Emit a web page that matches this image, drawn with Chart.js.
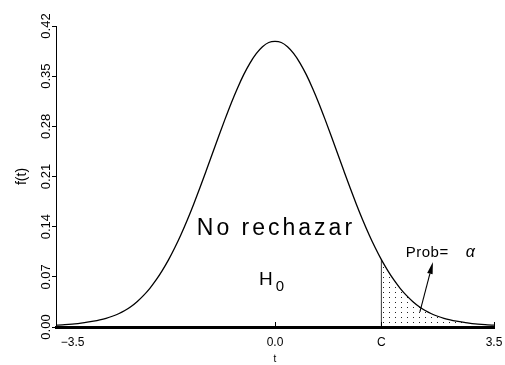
<!DOCTYPE html>
<html>
<head>
<meta charset="utf-8">
<script src="https://cdn.jsdelivr.net/npm/chart.js@4/dist/chart.umd.min.js"></script>
<style>
  html, body { margin: 0; padding: 0; background: #fff; }
  #wrap { width: 505px; height: 365px; }
</style>
</head>
<body>
<div id="wrap"><canvas id="c"></canvas></div>
<script>
// Density curve f(t), sampled every 0.1 from -3.5 to 3.5
const tValues = [
  -3.5, -3.4, -3.3, -3.2, -3.1, -3.0, -2.9, -2.8, -2.7, -2.6,
  -2.5, -2.4, -2.3, -2.2, -2.1, -2.0, -1.9, -1.8, -1.7, -1.6,
  -1.5, -1.4, -1.3, -1.2, -1.1, -1.0, -0.9, -0.8, -0.7, -0.6,
  -0.5, -0.4, -0.3, -0.2, -0.1, 0.0, 0.1, 0.2, 0.3, 0.4,
  0.5, 0.6, 0.7, 0.8, 0.9, 1.0, 1.1, 1.2, 1.3, 1.4,
  1.5, 1.6, 1.7, 1.8, 1.9, 2.0, 2.1, 2.2, 2.3, 2.4,
  2.5, 2.6, 2.7, 2.8, 2.9, 3.0, 3.1, 3.2, 3.3, 3.4, 3.5
];
const density = [
  0.0025, 0.0030, 0.0037, 0.0045, 0.0055, 0.0067, 0.0082, 0.0100, 0.0122, 0.0150,
  0.0185, 0.0230, 0.0287, 0.0357, 0.0441, 0.0540, 0.0656, 0.0790, 0.0940, 0.1109,
  0.1295, 0.1497, 0.1714, 0.1942, 0.2179, 0.2420, 0.2661, 0.2897, 0.3123, 0.3332,
  0.3521, 0.3683, 0.3814, 0.3910, 0.3970, 0.3985, 0.3970, 0.3910, 0.3814, 0.3683,
  0.3521, 0.3332, 0.3123, 0.2897, 0.2661, 0.2420, 0.2179, 0.1942, 0.1714, 0.1497,
  0.1295, 0.1109, 0.0940, 0.0790, 0.0656, 0.0540, 0.0441, 0.0357, 0.0287, 0.0230,
  0.0185, 0.0150, 0.0122, 0.0100, 0.0082, 0.0067, 0.0055, 0.0045, 0.0037, 0.0030, 0.0025
];

// Critical value C (start of the rejection region)
const critical = 1.7;

// Axis ticks
const xTicks = [-3.5, 0.0, 1.7, 3.5];
const xTickLabels = ['\u2007\u2007\u2007\u2007\u2007\u22123.5', '0.0', 'C', '3.5'];
const yTicks = [0.00, 0.07, 0.14, 0.21, 0.28, 0.35, 0.42];

// Text placed on the plot (data coordinates)
const regionLabel = { text: 'No rechazar', x: -1.25, y: 0.128 };
const hypothesisLabel = { text: 'H', sub: '0', x: -0.255, y: 0.0586 };
const probLabel = { text: 'Prob=', greek: '\u03b1', x: 2.09, xGreek: 3.05, y: 0.0977 };
const arrowFrom = { x: 2.316, y: 0.021 };
const arrowTo = { x: 2.524, y: 0.0907 };

const curvePoints = tValues.map((t, i) => ({ x: t, y: density[i] }));
const tailPoints = curvePoints.filter(p => p.x >= critical);
const criticalHeight = density[tValues.indexOf(critical)];

// Dotted pattern for the tail area
const tile = document.createElement('canvas');
tile.width = 6; tile.height = 5;
const tctx = tile.getContext('2d');
tctx.fillStyle = '#222';
tctx.fillRect(5, 2, 1, 1);
const dots = tctx.createPattern(tile, 'repeat');

const FONT = "'Liberation Sans', 'DejaVu Sans', sans-serif";

const annotations = {
  id: 'annotations',
  afterDraw(chart) {
    const { ctx, scales: { x, y } } = chart;
    ctx.save();

    // x tick marks pointing into the plot
    ctx.strokeStyle = '#000';
    ctx.lineWidth = 1;
    const base = y.getPixelForValue(0);
    xTicks.forEach(v => {
      const px = Math.round(x.getPixelForValue(v)) + 0.5;
      ctx.beginPath();
      ctx.moveTo(px, base);
      ctx.lineTo(px, base - 5);
      ctx.stroke();
    });

    ctx.fillStyle = '#000';
    ctx.textAlign = 'left';
    ctx.textBaseline = 'alphabetic';

    ctx.font = '23px ' + FONT;
    ctx.letterSpacing = '3px';
    ctx.fillText(regionLabel.text, x.getPixelForValue(regionLabel.x), y.getPixelForValue(regionLabel.y));
    ctx.letterSpacing = '0px';

    const hx = x.getPixelForValue(hypothesisLabel.x);
    const hy = y.getPixelForValue(hypothesisLabel.y);
    ctx.font = '19px ' + FONT;
    ctx.fillText(hypothesisLabel.text, hx, hy);
    const hw = ctx.measureText(hypothesisLabel.text).width;
    ctx.font = '15px ' + FONT;
    ctx.fillText(hypothesisLabel.sub, hx + hw + 3, hy + 6);

    ctx.font = '15px ' + FONT;
    ctx.letterSpacing = '0.5px';
    ctx.fillText(probLabel.text, x.getPixelForValue(probLabel.x), y.getPixelForValue(probLabel.y));
    ctx.letterSpacing = '0px';
    ctx.font = 'italic 16px ' + FONT;
    ctx.fillText(probLabel.greek, x.getPixelForValue(probLabel.xGreek), y.getPixelForValue(probLabel.y));

    // Arrow pointing at the tail area label
    const x0 = x.getPixelForValue(arrowFrom.x), y0 = y.getPixelForValue(arrowFrom.y);
    const x1 = x.getPixelForValue(arrowTo.x), y1 = y.getPixelForValue(arrowTo.y);
    const ang = Math.atan2(y1 - y0, x1 - x0);
    const headLen = 12, headHalf = 2.8;
    const bx = x1 - headLen * Math.cos(ang), by = y1 - headLen * Math.sin(ang);
    ctx.strokeStyle = '#000';
    ctx.lineWidth = 1.1;
    ctx.beginPath();
    ctx.moveTo(x0, y0);
    ctx.lineTo(bx, by);
    ctx.stroke();
    ctx.beginPath();
    ctx.moveTo(x1, y1);
    ctx.lineTo(bx + headHalf * Math.sin(ang), by - headHalf * Math.cos(ang));
    ctx.lineTo(bx - headHalf * Math.sin(ang), by + headHalf * Math.cos(ang));
    ctx.closePath();
    ctx.fill();

    ctx.restore();
  }
};

new Chart(document.getElementById('c'), {
  type: 'line',
  data: {
    datasets: [
      {
        data: curvePoints,
        borderColor: '#000',
        borderWidth: 1.3,
        pointRadius: 0,
        cubicInterpolationMode: 'monotone',
        fill: false,
        order: 1
      },
      {
        data: tailPoints,
        borderWidth: 0,
        borderColor: 'rgba(0,0,0,0)',
        backgroundColor: dots,
        pointRadius: 0,
        cubicInterpolationMode: 'monotone',
        fill: 'origin',
        order: 3
      },
      {
        data: [{ x: critical, y: 0 }, { x: critical, y: criticalHeight }],
        borderColor: '#333',
        borderWidth: 1,
        pointRadius: 0,
        fill: false,
        order: 2
      }
    ]
  },
  options: {
    responsive: true,
    maintainAspectRatio: false,
    animation: false,
    events: [],
    layout: { padding: { left: 0, right: 11, top: 26, bottom: 0 } },
    plugins: { legend: { display: false }, tooltip: { enabled: false } },
    scales: {
      x: {
        type: 'linear',
        min: -3.5,
        max: 3.5,
        afterBuildTicks: s => { s.ticks = xTicks.map(v => ({ value: v })); },
        afterFit: s => { s.height = 38; s.paddingLeft = 0; s.paddingRight = 0; },
        border: { display: true, color: '#000', width: 3 },
        grid: { display: false, drawTicks: false, tickLength: 0 },
        ticks: {
          autoSkip: false,
          maxRotation: 0,
          padding: 8,
          color: '#000',
          font: { family: FONT, size: 12 },
          callback: v => xTickLabels[xTicks.indexOf(v)]
        },
        title: {
          display: true,
          text: 't',
          color: '#000',
          font: { family: FONT, size: 10 },
          padding: { top: 0, bottom: 0 }
        }
      },
      y: {
        min: 0,
        max: 0.42,
        afterBuildTicks: s => { s.ticks = yTicks.map(v => ({ value: v })); },
        afterFit: s => { s.width = 56; },
        border: { display: true, color: '#000', width: 1 },
        grid: { display: true, drawOnChartArea: false, drawTicks: true, tickLength: 4, color: '#000', lineWidth: 1 },
        ticks: {
          minRotation: 90,
          maxRotation: 90,
          crossAlign: 'center',
          padding: -7,
          color: '#000',
          font: { family: FONT, size: 13 },
          callback: v => v.toFixed(2)
        },
        title: {
          display: true,
          text: 'f(t)',
          color: '#000',
          font: { family: FONT, size: 14 },
          padding: { top: 14, bottom: 0 }
        }
      }
    }
  },
  plugins: [annotations]
});
</script>
</body>
</html>
